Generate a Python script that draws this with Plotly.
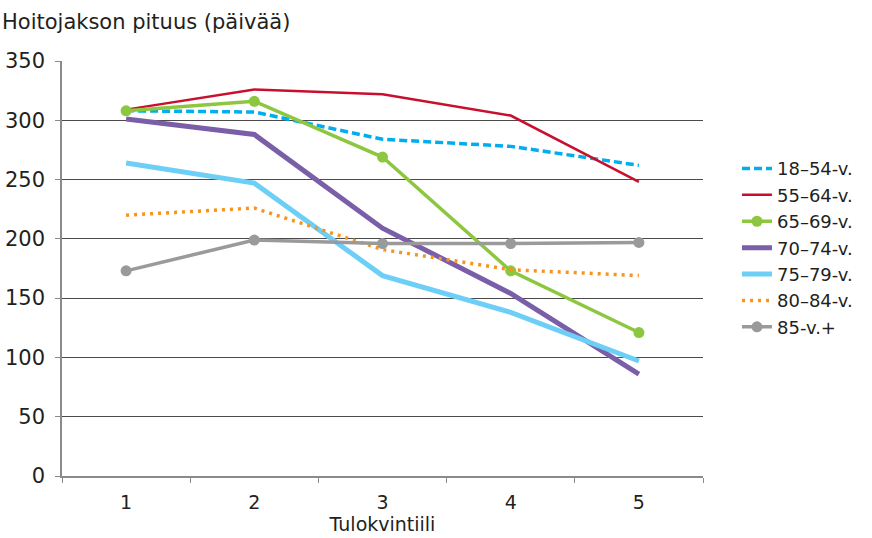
import plotly.graph_objects as go

# Income quintiles on the x axis
quintiles = ["1", "2", "3", "4", "5"]

# Average length of care period (days) per age group
age_18_54 = [308, 307, 284, 278, 262]
age_55_64 = [309, 326, 322, 304, 248]
age_65_69 = [308, 316, 269, 173, 121]
age_70_74 = [301, 288, 209, 154, 86]
age_75_79 = [264, 247, 169, 138, 97]
age_80_84 = [220, 226, 191, 174, 169]
age_85_plus = [173, 199, 196, 196, 197]

y_ticks = [0, 50, 100, 150, 200, 250, 300, 350]

FONT = "DejaVu Sans"
TEXT = "#231f20"

series = [
    ("18\u201354-v.", age_18_54, dict(color="#00aeef", width=3.5, dash="8px,4px"), None),
    ("55\u201364-v.", age_55_64, dict(color="#c8102e", width=2.5), None),
    ("65\u201369-v.", age_65_69, dict(color="#8dc63f", width=3.5), dict(size=11, color="#8dc63f")),
    ("70\u201374-v.", age_70_74, dict(color="#7a5fa8", width=5), None),
    ("75\u201379-v.", age_75_79, dict(color="#6dcff6", width=5), None),
    ("80\u201384-v.", age_80_84, dict(color="#f7941d", width=3.5, dash="3px,5px"), None),
    ("85-v.+", age_85_plus, dict(color="#9a9a9a", width=3.5), dict(size=11, color="#9a9a9a")),
]

fig = go.Figure()
for name, vals, line, marker in series:
    fig.add_trace(go.Scatter(
        x=quintiles, y=vals, name=name,
        mode="lines+markers" if marker else "lines",
        line=line, marker=marker,
    ))

fig.update_layout(
    width=872, height=538,
    margin=dict(l=62, r=169, t=61, b=62, autoexpand=False),
    paper_bgcolor="white", plot_bgcolor="white",
    font=dict(family=FONT, size=19, color=TEXT),
    legend=dict(
        x=1.053, y=0.55, xanchor="left", yanchor="middle",
        font=dict(family=FONT, size=18, color=TEXT),
        tracegroupgap=0, itemwidth=30,
        bgcolor="rgba(0,0,0,0)",
    ),
    xaxis=dict(
        type="category", range=[-0.5, 4.5], automargin=False,
        showgrid=False, showline=True, linecolor="#8a8a8a", linewidth=1.5,
        ticks="outside", tickson="boundaries", ticklen=5, tickcolor="#8a8a8a",
        tickfont=dict(family=FONT, size=19),
        ticklabelstandoff=8,
        title=dict(text="Tulokvintiili", font=dict(family=FONT, size=19), standoff=6),
    ),
    yaxis=dict(
        range=[0, 350], tickvals=y_ticks, automargin=False,
        showgrid=True, gridcolor="#4a4a4a", gridwidth=1,
        showline=True, linecolor="#8a8a8a", linewidth=1.5,
        ticks="outside", ticklen=5, tickcolor="#8a8a8a",
        tickfont=dict(family=FONT, size=21),
        zeroline=False,
        ticklabelstandoff=6,
    ),
    annotations=[dict(
        text="Hoitojakson pituus (päivää)", xref="paper", yref="paper",
        x=-62 / 641, y=1 + 39 / 415, xanchor="left", yanchor="middle",
        showarrow=False, font=dict(family=FONT, size=21, color=TEXT),
    )],
)

fig.write_html("out.html")
